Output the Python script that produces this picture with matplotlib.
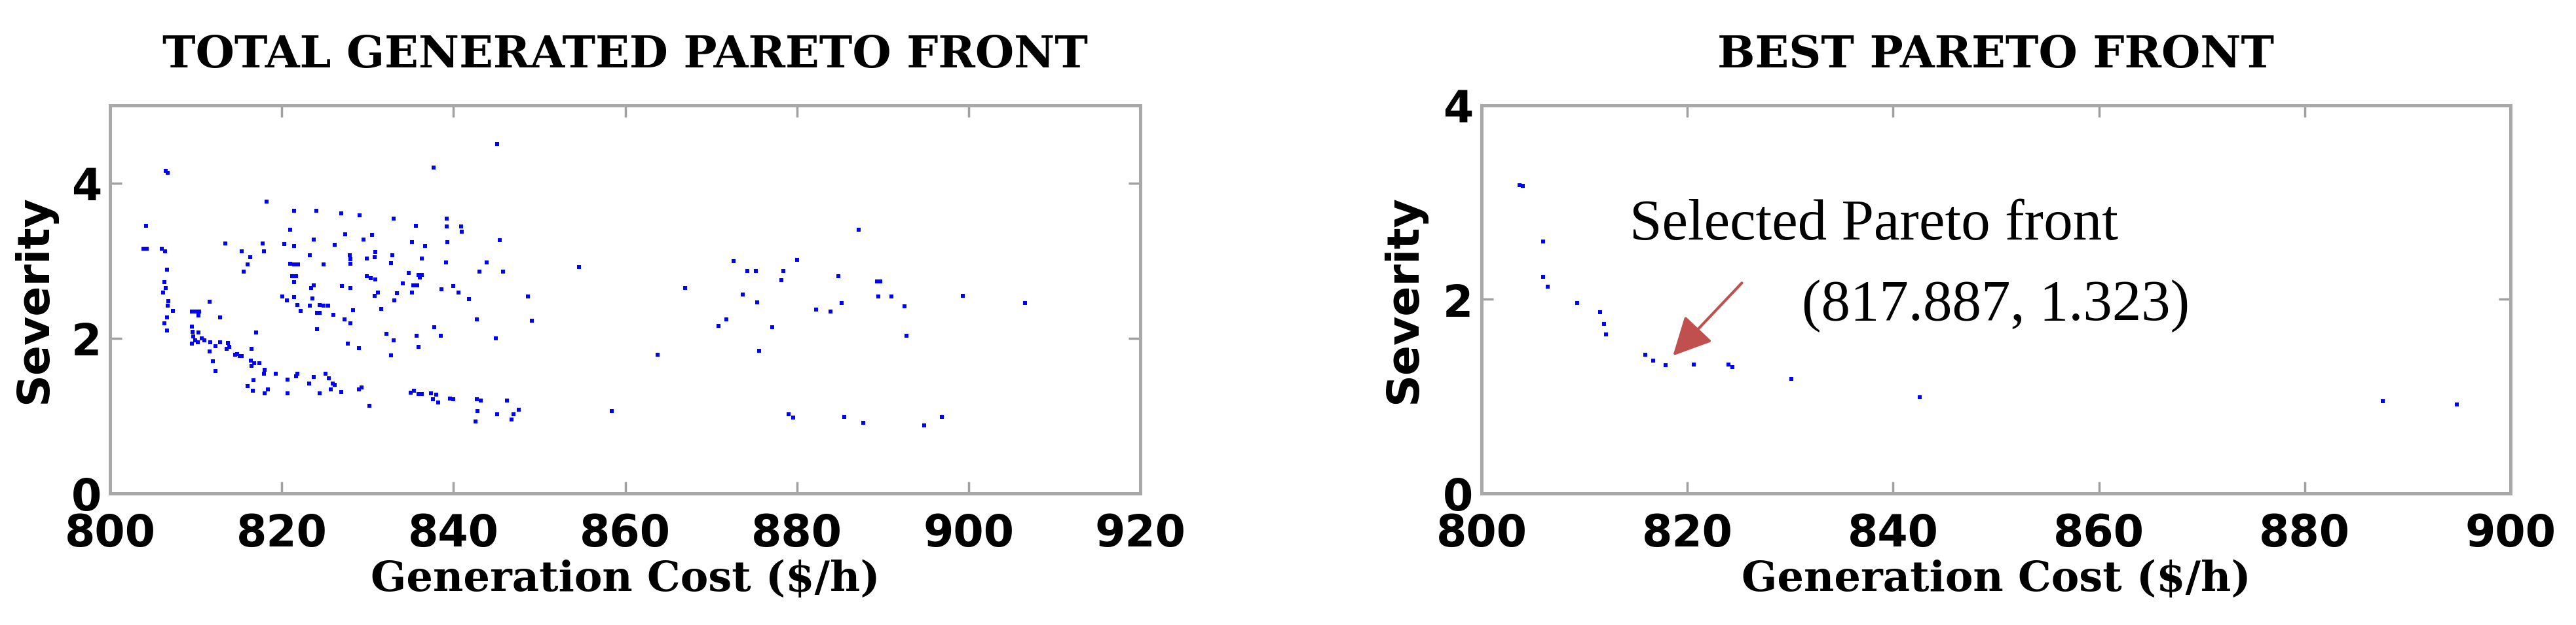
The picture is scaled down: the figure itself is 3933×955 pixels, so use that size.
import matplotlib
matplotlib.use('Agg')
import matplotlib.pyplot as plt

# total generated pareto front (generation cost $/h, severity)
total_cost = [845.1, 837.7, 806.5, 806.7, 818.2, 821.4, 824.0, 826.9, 829.1, 833.0,
              839.2, 839.2, 840.9, 841.0, 835.6, 804.2, 821.0, 827.4, 830.5, 829.5,
              823.7, 845.4, 813.4, 817.8, 817.9, 820.3, 821.4, 826.2, 835.2, 836.7,
              839.3, 803.9, 804.3, 806.0, 806.4, 815.3, 816.3, 816.0, 815.6, 823.3,
              827.9, 828.0, 828.0, 830.9, 830.8, 829.9, 832.9, 832.7, 836.3, 839.1,
              806.6, 821.0, 821.4, 821.9, 824.9, 843.9, 843.0, 845.8, 854.6, 821.2,
              821.7, 821.4, 829.9, 830.4, 830.9, 834.8, 835.9, 836.3, 836.1, 834.1,
              835.3, 835.8, 827.0, 828.0, 823.4, 823.7, 806.3, 806.5, 806.2, 838.6,
              840.0, 840.6, 835.2, 831.2, 830.8, 833.4, 833.1, 841.8, 848.7, 867.0,
              820.1, 820.6, 821.4, 823.6, 806.8, 806.7, 811.6, 821.8, 822.2, 823.3,
              824.4, 824.9, 825.4, 824.1, 824.4, 807.3, 828.3, 831.6, 809.5, 810.0,
              810.4, 810.3, 826.0, 812.8, 806.6, 806.3, 806.6, 827.3, 828.0, 842.7,
              849.1, 809.5, 809.6, 809.7, 809.9, 824.1, 817.0, 837.8, 832.2, 833.0,
              835.7, 835.9, 838.5, 844.9, 827.7, 829.0, 832.7, 863.8, 810.3, 810.7,
              810.2, 811.0, 811.7, 812.3, 812.8, 813.7, 813.9, 813.6, 814.8, 815.1,
              814.6, 815.3, 809.5, 811.6, 812.0, 812.3, 816.5, 816.4, 816.8, 817.4,
              816.5, 818.0, 817.9, 819.3, 821.8, 821.7, 820.7, 816.7, 823.7, 823.2,
              825.1, 825.5, 825.9, 826.2, 816.0, 816.6, 818.4, 818.0, 820.7, 824.4,
              825.7, 826.9, 829.3, 829.0, 830.2, 835.0, 835.4, 835.9, 836.3, 837.4,
              838.0, 837.6, 838.2, 839.6, 840.0, 842.7, 843.2, 846.2, 842.8, 842.6,
              845.1, 847.0, 847.6, 846.8, 858.4, 872.6, 874.2, 875.2, 878.4, 878.2,
              880.0, 873.7, 875.4, 871.8, 870.9, 877.1, 875.6, 884.8, 887.2, 889.3,
              889.7, 889.5, 891.0, 882.2, 883.9, 885.2, 892.5, 892.8, 899.3, 906.6,
              879.0, 879.6, 885.5, 887.7, 894.8, 896.9]
total_severity = [4.50, 4.20, 4.16, 4.13, 3.76, 3.64, 3.64, 3.61, 3.58, 3.54,
                  3.54, 3.44, 3.44, 3.37, 3.45, 3.45, 3.40, 3.34, 3.33, 3.27,
                  3.27, 3.26, 3.22, 3.22, 3.12, 3.21, 3.19, 3.20, 3.24, 3.19,
                  3.24, 3.15, 3.15, 3.15, 3.12, 3.12, 3.04, 2.95, 2.86, 3.07,
                  3.07, 3.02, 2.96, 3.11, 3.04, 3.03, 3.07, 2.97, 3.03, 2.98,
                  2.88, 2.96, 2.95, 2.95, 2.95, 2.98, 2.86, 2.86, 2.92, 2.80,
                  2.80, 2.72, 2.80, 2.77, 2.76, 2.84, 2.82, 2.82, 2.78, 2.71,
                  2.68, 2.68, 2.67, 2.65, 2.65, 2.68, 2.72, 2.65, 2.59, 2.63,
                  2.67, 2.59, 2.59, 2.59, 2.55, 2.58, 2.49, 2.50, 2.54, 2.65,
                  2.54, 2.49, 2.53, 2.51, 2.48, 2.42, 2.47, 2.43, 2.35, 2.42,
                  2.43, 2.42, 2.42, 2.33, 2.33, 2.35, 2.36, 2.38, 2.34, 2.34,
                  2.34, 2.29, 2.30, 2.27, 2.27, 2.19, 2.10, 2.24, 2.19, 2.24,
                  2.23, 2.15, 2.08, 2.02, 1.97, 2.12, 2.07, 2.14, 2.06, 1.97,
                  2.03, 1.89, 2.03, 2.00, 1.93, 1.87, 1.78, 1.79, 2.07, 2.00,
                  1.95, 1.97, 1.95, 1.90, 1.95, 1.94, 1.89, 1.86, 1.80, 1.77,
                  1.79, 1.77, 1.93, 1.83, 1.70, 1.58, 1.86, 1.71, 1.68, 1.68,
                  1.64, 1.59, 1.54, 1.54, 1.54, 1.51, 1.47, 1.46, 1.50, 1.42,
                  1.54, 1.48, 1.42, 1.40, 1.38, 1.32, 1.34, 1.29, 1.29, 1.29,
                  1.34, 1.31, 1.37, 1.34, 1.13, 1.30, 1.32, 1.28, 1.28, 1.29,
                  1.27, 1.21, 1.17, 1.22, 1.21, 1.21, 1.20, 1.20, 1.06, 0.93,
                  1.02, 1.02, 1.08, 0.95, 1.06, 2.99, 2.87, 2.87, 2.87, 2.75,
                  3.01, 2.56, 2.46, 2.24, 2.16, 2.14, 1.84, 2.80, 3.40, 2.73,
                  2.73, 2.54, 2.54, 2.37, 2.34, 2.45, 2.41, 2.03, 2.55, 2.45,
                  1.02, 0.98, 0.99, 0.91, 0.88, 0.99]

# best pareto front
best_cost = [804.0, 803.7, 806.0, 806.0, 806.4, 809.3, 811.5, 811.9, 812.1, 815.9,
             816.7, 817.887, 820.6, 824.0, 824.4, 830.1, 842.6, 887.6, 894.8]
best_severity = [3.17, 3.18, 2.60, 2.23, 2.13, 1.96, 1.87, 1.75, 1.64, 1.43,
                 1.37, 1.323, 1.33, 1.33, 1.30, 1.18, 0.99, 0.95, 0.92]

selected = (817.887, 1.323)

W, H = 3933, 955
fig = plt.figure(figsize=(W / 100, H / 100), dpi=100)
ax1 = fig.add_axes([168 / W, 201 / H, 1573 / W, 593 / H])
ax2 = fig.add_axes([2262 / W, 201 / H, 1571 / W, 593 / H])

title_font = dict(family='DejaVu Serif', weight='bold', size=49)
label_font = dict(family='DejaVu Serif', weight='bold', size=46)
sev_font = dict(family='DejaVu Sans', weight='bold', size=49)


def style_axes(ax, title, xlim, ylim, xticks, yticks):
    ax.set_xlim(xlim)
    ax.set_ylim(ylim)
    ax.set_xticks(xticks)
    ax.set_yticks(yticks)
    for s in ax.spines.values():
        s.set_color('#A8A8A8')
        s.set_linewidth(3.6)
    ax.tick_params(direction='in', top=True, right=True, length=13, width=2.5,
                   color='#A0A0A0', labelsize=48, labelcolor='black')
    ax.tick_params(axis='x', pad=21)
    ax.tick_params(axis='y', pad=9)
    for lbl in ax.get_xticklabels() + ax.get_yticklabels():
        lbl.set_fontfamily('DejaVu Sans')
        lbl.set_fontweight('bold')
    ax.set_title(title, pad=42, **title_font)
    ax.set_xlabel('Generation Cost ($/h)', **label_font)
    ax.xaxis.set_label_coords(0.5, -0.17)
    ax.set_ylabel('Severity', **sev_font)


ax1.plot(total_cost, total_severity, 's', color='#0000FF', ms=5, mew=0)
style_axes(ax1, 'TOTAL GENERATED PARETO FRONT', (800, 920), (0, 5),
           range(800, 921, 20), [0, 2, 4])
ax1.yaxis.set_label_coords(-0.052, 0.5)

ax2.plot(best_cost, best_severity, 's', color='#0000FF', ms=5, mew=0)
style_axes(ax2, 'BEST PARETO FRONT', (800, 900), (0, 4),
           range(800, 901, 20), [0, 2, 4])
ax2.yaxis.set_label_coords(-0.054, 0.5)

ax2.text(814.4, 2.62, 'Selected Pareto front', family='Liberation Serif',
         size=64, ha='left', va='baseline')
ax2.text(831.1, 1.79, '(%.3f, %.3f)' % selected, family='Liberation Serif',
         size=64, ha='left', va='baseline')
ax2.annotate('', xy=(818.6, 1.42), xytext=(825.3, 2.17),
             arrowprops=dict(arrowstyle='-|>,head_length=0.4,head_width=0.2',
                             color='#C0504D', lw=3, mutation_scale=90,
                             shrinkA=0, shrinkB=0))

fig.savefig('out.png', dpi=100)
